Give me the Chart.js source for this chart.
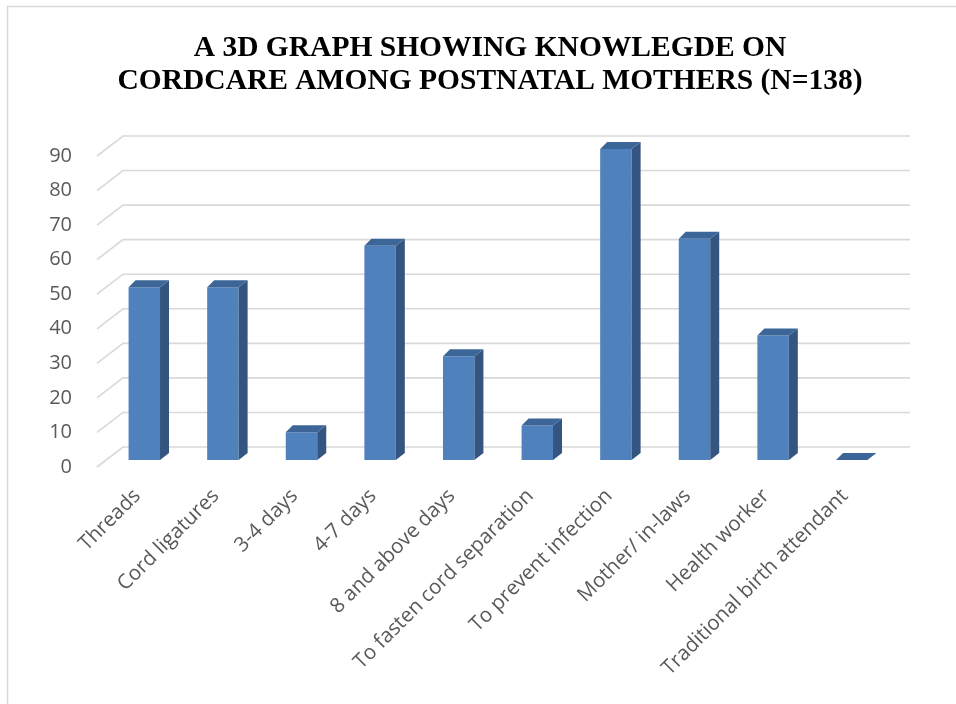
<!DOCTYPE html>
<html>
<head>
<meta charset="utf-8">
<script src="https://cdn.jsdelivr.net/npm/chart.js@4/dist/chart.umd.min.js"></script>
<style>
  body { margin: 0; background: #fff; }
  canvas { display: block; }
</style>
</head>
<body>
<canvas id="myChart" width="956" height="704"></canvas>
<script>
const categories = ['Threads', 'Cord ligatures', '3-4 days', '4-7 days', '8 and above days',
    'To fasten cord separation', 'To prevent infection', 'Mother/ in-laws', 'Health worker',
    'Traditional birth attendant'];
const counts = [50, 50, 8, 62, 30, 10, 90, 64, 36, 0];
const yTicks = [0, 10, 20, 30, 40, 50, 60, 70, 80, 90];
const titleLines = ['A 3D GRAPH SHOWING KNOWLEGDE ON', 'CORDCARE AMONG POSTNATAL MOTHERS (N=138)'];

// depth of the fake 3d
const DX = 9, DY = 7;

// grey frame (top and left edge only) and the title
const framePlugin = {
    id: 'frame',
    beforeDraw(chart) {
        const ctx = chart.ctx;
        ctx.save();
        ctx.fillStyle = '#fff';
        ctx.fillRect(0, 0, chart.width, chart.height);
        ctx.strokeStyle = '#d9d9d9';
        ctx.lineWidth = 1.5;
        ctx.beginPath();
        ctx.moveTo(7.5, chart.height);
        ctx.lineTo(7.5, 6.5);
        ctx.lineTo(chart.width, 6.5);
        ctx.stroke();

        ctx.fillStyle = '#000';
        ctx.font = 'bold 29.5px "Liberation Serif", "Times New Roman", serif';
        ctx.textAlign = 'center';
        ctx.textBaseline = 'middle';
        titleLines.forEach((t, i) => ctx.fillText(t, 490, 48 + i * 33));
        ctx.restore();
    }
};

// slanted floor lines + back wall gridlines
const wallPlugin = {
    id: 'wall',
    beforeDatasetsDraw(chart) {
        const ctx = chart.ctx, y = chart.scales.y, area = chart.chartArea;
        ctx.save();
        ctx.strokeStyle = '#d9d9d9';
        ctx.lineWidth = 1.6;
        yTicks.forEach(v => {
            const py = y.getPixelForValue(v);
            ctx.beginPath();
            ctx.moveTo(area.left - 8, py + 7);
            ctx.lineTo(area.left + 18, py - 13);
            ctx.lineTo(area.right + 19, py - 13);
            ctx.stroke();
        });
        ctx.restore();
    }
};

// side and top faces of each bar
const boxPlugin = {
    id: 'box',
    afterDatasetsDraw(chart) {
        const ctx = chart.ctx;
        const meta = chart.getDatasetMeta(0);
        ctx.save();
        meta.data.forEach(bar => {
            const x0 = bar.x - bar.width / 2, x1 = bar.x + bar.width / 2;
            const top = bar.y, base = bar.base;
            // side
            ctx.fillStyle = '#34557f';
            ctx.beginPath();
            ctx.moveTo(x1, top);
            ctx.lineTo(x1 + DX, top - DY);
            ctx.lineTo(x1 + DX, base - DY);
            ctx.lineTo(x1, base);
            ctx.closePath();
            ctx.fill();
            // top
            ctx.fillStyle = '#3d6698';
            ctx.beginPath();
            ctx.moveTo(x0, top);
            ctx.lineTo(x0 + DX - 2, top - DY);
            ctx.lineTo(x1 + DX, top - DY);
            ctx.lineTo(x1, top);
            ctx.closePath();
            ctx.fill();
        });
        ctx.restore();
    }
};

const ctx = document.getElementById('myChart').getContext('2d');

const chart = new Chart(ctx, {
    type: 'bar',
    data: {
        labels: categories,
        datasets: [{
            data: counts,
            backgroundColor: '#4f81bd',
            borderWidth: 0,
            barPercentage: 1,
            categoryPercentage: 0.4
        }]
    },
    options: {
        responsive: false,
        animation: false,
        layout: { padding: { left: 0, right: 65, top: 149, bottom: 0 } },
        plugins: {
            legend: { display: false },
            tooltip: { enabled: false },
            title: { display: false }
        },
        scales: {
            x: {
                grid: { display: false },
                border: { display: false },
                ticks: {
                    color: '#595959',
                    font: { family: '"Open Sans", sans-serif', size: 20.5 },
                    minRotation: 45,
                    maxRotation: 45,
                    padding: 16,
                    labelOffset: -7,
                    autoSkip: false
                },
                afterFit: s => { s.height = 244; }
            },
            y: {
                min: 0,
                max: 90,
                grid: { display: false },
                border: { display: false },
                ticks: {
                    stepSize: 10,
                    color: '#595959',
                    font: { family: '"Open Sans", sans-serif', size: 20 },
                    padding: 25,
                    labelOffset: 7
                },
                afterFit: s => { s.width = 105; }
            }
        }
    },
    plugins: [framePlugin, wallPlugin, boxPlugin]
});
</script>
</body>
</html>
